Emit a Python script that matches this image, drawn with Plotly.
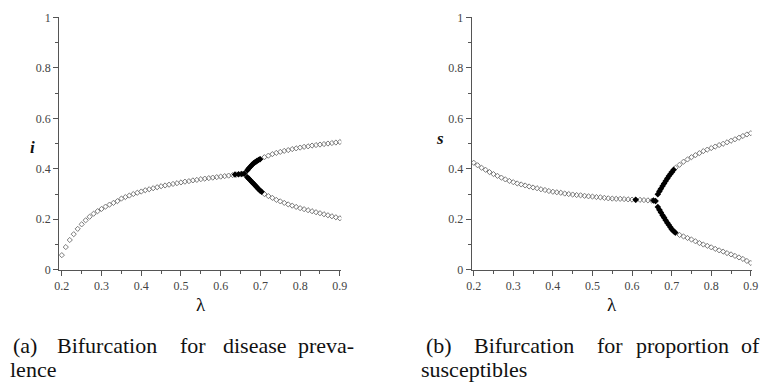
import plotly.graph_objects as go

# ---------------- data: panel (a) disease prevalence i ----------------
lam_trunk_a = [0.20, 0.21, 0.22, 0.23, 0.24, 0.25, 0.26, 0.27, 0.28, 0.29,
               0.30, 0.31, 0.32, 0.33, 0.34, 0.35, 0.36, 0.37, 0.38, 0.39,
               0.40, 0.41, 0.42, 0.43, 0.44, 0.45, 0.46, 0.47, 0.48, 0.49,
               0.50, 0.51, 0.52, 0.53, 0.54, 0.55, 0.56, 0.57, 0.58, 0.59,
               0.60, 0.61, 0.62, 0.63, 0.64, 0.65, 0.66]
i_trunk = [0.058, 0.090, 0.118, 0.141, 0.162, 0.180, 0.196, 0.210, 0.222, 0.232,
           0.241, 0.250, 0.258, 0.265, 0.272, 0.282, 0.288, 0.294, 0.300, 0.305,
           0.310, 0.315, 0.319, 0.323, 0.327, 0.331, 0.334, 0.337, 0.340, 0.343,
           0.346, 0.349, 0.351, 0.354, 0.356, 0.359, 0.361, 0.363, 0.365, 0.367,
           0.369, 0.371, 0.373, 0.375, 0.377, 0.379, 0.381]

lam_branch = [0.67, 0.68, 0.69, 0.70, 0.71, 0.72, 0.73, 0.74, 0.75, 0.76, 0.77, 0.78,
              0.79, 0.80, 0.81, 0.82, 0.83, 0.84, 0.85, 0.86, 0.87, 0.88, 0.89, 0.90]
i_upper = [0.400, 0.416, 0.428, 0.439, 0.446, 0.452, 0.458, 0.463, 0.467, 0.471, 0.474, 0.478,
           0.481, 0.484, 0.487, 0.489, 0.492, 0.494, 0.496, 0.498, 0.500, 0.502, 0.504, 0.506]
i_lower = [0.362, 0.346, 0.330, 0.312, 0.300, 0.292, 0.285, 0.277, 0.271, 0.265, 0.259, 0.254,
           0.249, 0.244, 0.240, 0.236, 0.232, 0.228, 0.224, 0.220, 0.216, 0.212, 0.208, 0.204]

# dense (black) iterates near the bifurcation, panel (a)
lam_blk_trunk_a = [0.636, 0.645, 0.653, 0.659]
i_blk_trunk = [0.377, 0.378, 0.379, 0.380]
lam_blk_up_a = [0.667, 0.671, 0.675, 0.679, 0.683, 0.687, 0.691, 0.695, 0.699]
i_blk_up = [0.394, 0.402, 0.409, 0.416, 0.422, 0.427, 0.431, 0.435, 0.438]
lam_blk_low_a = [0.667, 0.671, 0.675, 0.679, 0.683, 0.687, 0.691, 0.695, 0.699, 0.703]
i_blk_low = [0.367, 0.361, 0.354, 0.347, 0.341, 0.334, 0.327, 0.320, 0.314, 0.309]

# ---------------- data: panel (b) proportion of susceptibles s ----------------
lam_trunk_b = lam_trunk_a
s_trunk = [0.424, 0.414, 0.404, 0.396, 0.387, 0.379, 0.372, 0.365, 0.358, 0.352,
           0.347, 0.342, 0.338, 0.334, 0.330, 0.326, 0.323, 0.319, 0.316, 0.312,
           0.309, 0.307, 0.305, 0.302, 0.300, 0.298, 0.296, 0.295, 0.293, 0.291,
           0.290, 0.288, 0.287, 0.285, 0.283, 0.282, 0.281, 0.281, 0.280, 0.279,
           0.278, 0.277, 0.277, 0.276, 0.275, 0.274, 0.272]
s_upper = [0.315, 0.340, 0.364, 0.388, 0.404, 0.416, 0.428, 0.437, 0.446, 0.454, 0.462, 0.470,
           0.476, 0.482, 0.488, 0.494, 0.499, 0.505, 0.511, 0.517, 0.523, 0.530, 0.536, 0.541]
s_lower = [0.235, 0.210, 0.184, 0.160, 0.146, 0.138, 0.132, 0.126, 0.120, 0.113, 0.106, 0.100,
           0.095, 0.089, 0.083, 0.077, 0.072, 0.066, 0.061, 0.055, 0.049, 0.043, 0.035, 0.027]

lam_blk_trunk_b = [0.609, 0.654, 0.659]
s_blk_trunk = [0.277, 0.274, 0.272]
lam_blk_b = [0.665, 0.669, 0.673, 0.677, 0.681, 0.685, 0.689, 0.693, 0.697, 0.701, 0.705]
s_blk_up = [0.299, 0.310, 0.321, 0.332, 0.342, 0.352, 0.362, 0.371, 0.379, 0.387, 0.396]
lam_blk_low_b = [0.665, 0.669, 0.673, 0.677, 0.681, 0.685, 0.689, 0.693, 0.697, 0.701, 0.705, 0.709]
s_blk_low = [0.249, 0.238, 0.227, 0.216, 0.206, 0.196, 0.186, 0.177, 0.168, 0.160, 0.153, 0.148]

x_ticks = [0.2, 0.3, 0.4, 0.5, 0.6, 0.7, 0.8, 0.9]
y_ticks = [0, 0.2, 0.4, 0.6, 0.8, 1]

caption_a_line1 = ["(a)", "Bifurcation", "for", "disease", "preva-"]
caption_a_line2 = ["lence"]
caption_b_line1 = ["(b)", "Bifurcation", "for", "proportion", "of"]
caption_b_line2 = ["susceptibles"]

# ---------------- figure ----------------
W, H = 779, 385
SERIF = "Liberation Serif, Times New Roman, Times, DejaVu Serif, serif"
fig = go.Figure()

OPEN = dict(symbol="diamond-open", size=4, color="#7a7a7a", line=dict(width=1))
FILL = dict(symbol="diamond", size=5, color="#000000")


def add(xs, ys, marker, xa, ya):
    fig.add_trace(go.Scatter(x=xs, y=ys, mode="markers", marker=marker,
                             xaxis=xa, yaxis=ya, showlegend=False, hoverinfo="skip"))


for xs, ys in [(lam_trunk_a, i_trunk), (lam_branch, i_upper), (lam_branch, i_lower)]:
    add(xs, ys, OPEN, "x", "y")
for xs, ys in [(lam_blk_trunk_a, i_blk_trunk), (lam_blk_up_a, i_blk_up), (lam_blk_low_a, i_blk_low)]:
    add(xs, ys, FILL, "x", "y")

for xs, ys in [(lam_trunk_b, s_trunk), (lam_branch, s_upper), (lam_branch, s_lower)]:
    add(xs, ys, OPEN, "x2", "y2")
for xs, ys in [(lam_blk_trunk_b, s_blk_trunk), (lam_blk_b, s_blk_up), (lam_blk_low_b, s_blk_low)]:
    add(xs, ys, FILL, "x2", "y2")

axis_col = "#555555"
tickfont = dict(family=SERIF, size=12, color="#444444")


def xax(domain, rng):
    return dict(domain=domain, range=rng, showline=True, linecolor=axis_col, linewidth=1,
                ticks="outside", ticklen=5, tickcolor=axis_col, tickvals=x_ticks,
                tickfont=tickfont, showgrid=False, zeroline=False, fixedrange=True,
                minor=dict(ticks="outside", ticklen=3, tickcolor=axis_col, dtick=0.05, tick0=0.2,
                           showgrid=False))


def yax(anchor):
    return dict(domain=[1 - 272.7 / H, 1 - 10.7 / H], range=[0, 1], anchor=anchor,
                showline=True, linecolor=axis_col, linewidth=1, ticks="outside", ticklen=5,
                tickcolor=axis_col, tickvals=y_ticks, tickfont=tickfont, showgrid=False,
                zeroline=False, fixedrange=True,
                minor=dict(ticks="outside", ticklen=3, tickcolor=axis_col, dtick=0.1, tick0=0,
                           showgrid=False))


fig.update_layout(
    width=W, height=H, autosize=False,
    margin=dict(l=0, r=0, t=0, b=0),
    paper_bgcolor="white", plot_bgcolor="white",
    font=dict(family=SERIF),
    xaxis=dict(xax([55 / W, 341.7 / W], [0.1933, 0.904]), anchor="y"),
    yaxis=yax("x"),
    xaxis2=dict(xax([474 / W, 758.3 / W], [0.195, 0.902]), anchor="y2"),
    yaxis2=yax("x2"),
)

ann = []


def txt(text, xpx, ypx, size, xanchor="center"):
    ann.append(dict(text=text, x=xpx / W, y=1 - ypx / H, xref="paper", yref="paper",
                    showarrow=False, xanchor=xanchor, yanchor="middle",
                    font=dict(family=SERIF, size=size, color="#111111")))


# axis titles
txt("<b><i>i</i></b>", 27.5, 146, 17)
txt("<b><i>s</i></b>", 442, 136, 17)
txt("λ", 199, 309, 19)
txt("λ", 616, 309, 19)

# captions (justified words)
for w, cx in zip(caption_a_line1, [20, 104, 191, 253.5, 326]):
    txt(w, cx, 351, 22)
for w, cx in zip(caption_a_line2, [28]):
    txt(w, cx, 376, 22)
for w, cx in zip(caption_b_line1, [441, 527, 614, 688, 757.5]):
    txt(w, cx, 351, 22)
for w, cx in zip(caption_b_line2, [476]):
    txt(w, cx, 376, 22)

fig.update_layout(annotations=ann)
fig.write_html("out.html")
